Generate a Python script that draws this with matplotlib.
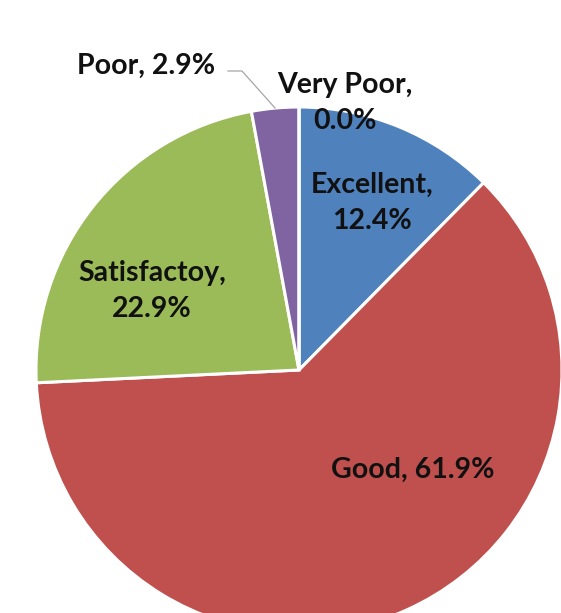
import matplotlib.pyplot as plt

categories = ['Excellent', 'Good', 'Satisfactoy', 'Poor', 'Very Poor']
shares = [12.4, 61.9, 22.9, 2.9, 0.0]
colors = ['#4F81BD', '#C0504D', '#9BBB59', '#8064A2', '#F79646']

plt.rcParams['font.family'] = ['Lato', 'DejaVu Sans']

fig = plt.figure(figsize=(5.61, 6.13), dpi=100)
ax = fig.add_axes([0, 0, 1, 1])

# pixel-like data units: centre of pie at (299, 370) from top-left
R = 263
ax.pie(shares, colors=colors, startangle=90, counterclock=False,
       radius=R, center=(0, 0),
       wedgeprops=dict(edgecolor='white', linewidth=2.2))
ax.set_xlim(-299, 262)
ax.set_ylim(-243, 370)
ax.set_aspect('equal')
ax.axis('off')


def px(x, y):
    return x - 299, 370 - y


labels = {
    'Excellent': ((372, 203), 'Excellent,\n12.4%'),
    'Good': ((413, 470), 'Good, 61.9%'),
    'Satisfactoy': ((152, 291), 'Satisfactoy,\n22.9%'),
    'Poor': ((146, 66), 'Poor, 2.9%'),
    'Very Poor': ((345, 103), 'Very Poor,\n0.0%'),
}
for name in categories:
    (x, y), txt = labels[name]
    ax.text(*px(x, y), txt, ha='center', va='center', fontsize=20.5,
            fontweight='bold', color='#111111', linespacing=1.45)

# leader line for Poor
lx, ly = zip(px(228, 71), px(242, 71), px(275, 108))
ax.plot(lx, ly, color='#A6A6A6', linewidth=0.9)

fig.savefig('out.png', dpi=100)
